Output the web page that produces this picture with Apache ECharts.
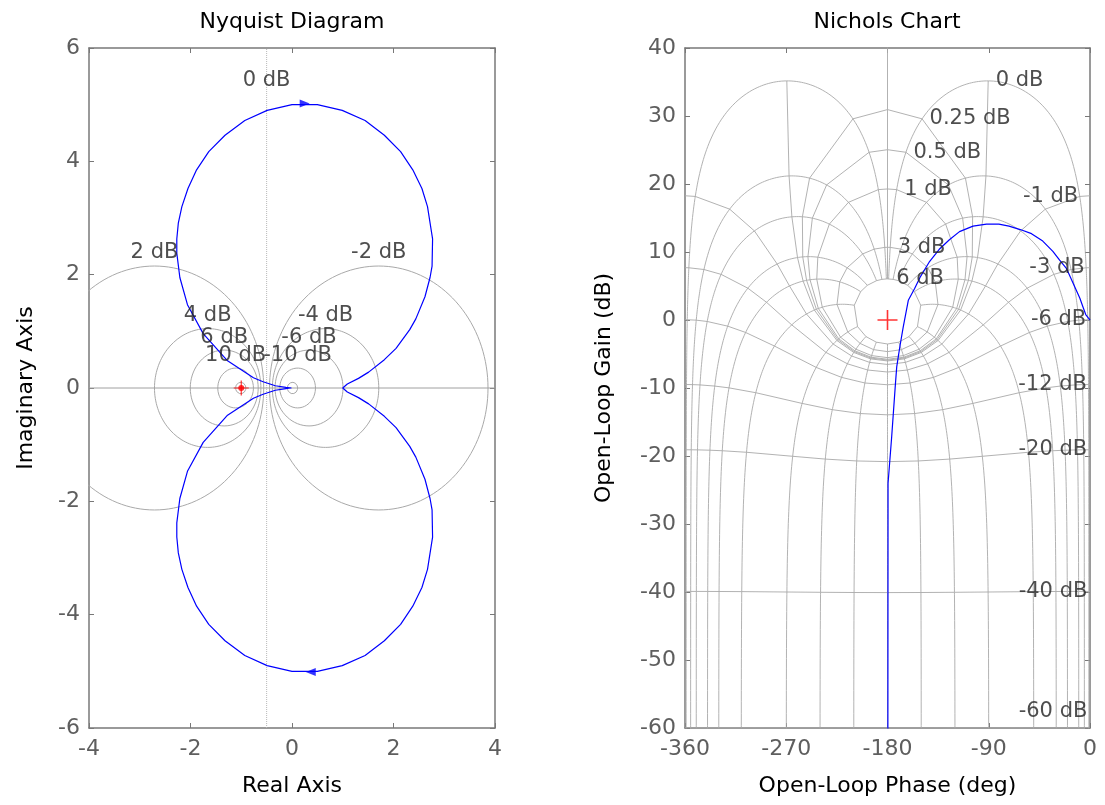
<!DOCTYPE html>
<html><head><meta charset="utf-8">
<script src="https://cdn.jsdelivr.net/npm/echarts/dist/echarts.min.js"></script>
<style>html,body{margin:0;padding:0;background:#fff}#c{width:1105px;height:805px}</style>
</head><body><div id="c"></div>
<script>
// ---------------- data ----------------
// Nyquist axes: [min, max, step]
const nyqXRange = [-4, 4, 2];
const nyqYRange = [-6, 6, 2];
// Nichols axes
const nicXRange = [-360, 0, 90];
const nicYRange = [-60, 40, 10];

// Nyquist curve, positive-frequency branch (real, imaginary)
const nyqReLower = [1.00, 1.09, 1.31, 1.51, 1.82, 2.05, 2.32, 2.44, 2.62, 2.72, 2.76, 2.77, 2.67, 2.56, 2.38, 2.14, 1.82, 1.44, 0.99, 0.50, 0.00, -0.49, -0.93, -1.32, -1.64, -1.88, -2.05, -2.17, -2.24, -2.27, -2.27, -2.21, -2.06, -1.75, -1.27, -0.76, -0.57, -0.33, -0.12, -0.04, -0.01];
const nyqImLower = [0.00, -0.07, -0.17, -0.28, -0.50, -0.70, -1.03, -1.22, -1.61, -1.95, -2.15, -2.63, -3.20, -3.52, -3.85, -4.17, -4.46, -4.72, -4.90, -5.00, -5.00, -4.90, -4.72, -4.46, -4.17, -3.85, -3.52, -3.20, -2.91, -2.63, -2.38, -1.95, -1.47, -0.96, -0.48, -0.18, -0.11, -0.04, -0.01, 0.00, 0.00];
// Direction arrows on the Nyquist curve
const nyqArrowRe = [0.25, 0.37];
const nyqArrowIm = [5.02, -5.01];
const nyqArrowDir = ['right', 'left'];
// Critical points
const nyqCritical = [-1, 0];
const nicCritical = [-180, 0];

// Nichols curve: open-loop phase (deg) and gain (dB)
const nicPhase = [0, -1.5, -3.8, -6, -9, -15, -21, -27, -33, -42, -52, -62, -72, -81, -92, -104, -116, -125, -134, -143, -151, -156, -161.5, -166, -169, -171.8, -173, -176.3, -179.5, -179.7];
const nicGain  = [0, 0.3, 0.8, 1.8, 3.2, 5.4, 7.6, 8.8, 10.1, 11.6, 12.7, 13.3, 13.8, 14.1, 14.1, 13.8, 13.0, 11.8, 10.4, 8.5, 6.3, 4.6, 2.9, -1.0, -3.9, -6.9, -9.5, -17.2, -24, -70];

// Grid levels
const nyqMdB = [-20, -10, -6, -4, -2, 2, 4, 6, 10, 20];       // M-circles
const nyqLabelDB = [0, 2, -2, 4, -4, 6, -6, 10, -10];          // labelled circles
const nicGainDB = [6, 3, 1, 0.5, 0.25, 0, -1, -3, -6, -12, -20, -40, -60, -80]; // closed-loop gain lines
const nicPhaseDeg = [-1, -5, -10, -20, -30, -50, -90, -120, -150, -180, -210, -240, -270, -310, -330, -340, -350, -355, -359]; // closed-loop phase lines
const nicLabelDB = [6, 3, 1, 0.5, 0.25, 0, -1, -3, -6, -12, -20, -40, -60];

// ---------------- styling ----------------
const FONT = 'DejaVu Sans';
const AXC = '#787878';
const TICKC = '#5e5e5e';
const GRIDC = '#a9a9a9';
const LABC = '#222222';
const BLUE = '#0000ff';
const RED = '#ff0000';
const zeroDbLabelIm = 5.2;

// ---------------- helpers ----------------
function fmtDB(v) { return v + ' dB'; }

function mCircle(db) {
  const M = Math.pow(10, db / 20), M2 = M * M;
  const c = -M2 / (M2 - 1), r = Math.abs(M / (M2 - 1));
  const pts = [];
  for (let k = 0; k <= 144; k++) {
    const t = 2 * Math.PI * k / 144;
    pts.push([c + r * Math.cos(t), r * Math.sin(t)]);
  }
  return pts;
}
function mCircleTop(db) {
  const M = Math.pow(10, db / 20), M2 = M * M;
  return [-M2 / (M2 - 1), Math.abs(M / (M2 - 1))];
}
// open-loop point for closed-loop gain (dB) and phase (deg)
function olPoint(mdB, phiDeg) {
  const m = Math.pow(10, mdB / 20), p = phiDeg * Math.PI / 180;
  const tr = m * Math.cos(p), ti = m * Math.sin(p);
  const dr = 1 - tr, di = -ti;
  const den = dr * dr + di * di;
  const gr = (tr * dr + ti * di) / den;
  const gi = (ti * dr - tr * di) / den;
  let a = Math.atan2(gi, gr) * 180 / Math.PI;
  if (a > 0) a -= 360;
  if (phiDeg < -180 && a > -180 + 1e-6) a -= 360;
  return [a, 20 * Math.log10(Math.sqrt(gr * gr + gi * gi))];
}
// closed-loop gain samples used to trace each phase line (grid levels plus dense fill)
function phaseLineGains() {
  const top = nicGainDB[0], bottom = nicGainDB[nicGainDB.length - 1];
  const s = 0.02, vals = nicGainDB.slice();
  for (let t = Math.asinh(top / s); t > Math.asinh(bottom / s); t -= 0.03) vals.push(s * Math.sinh(t));
  return vals.filter(v => v <= top && v >= bottom).sort((a, b) => b - a);
}

function lineS(data, color, width, xi, yi, type, z) {
  return { type: 'line', xAxisIndex: xi, yAxisIndex: yi, data: data, showSymbol: false, symbol: 'none',
    lineStyle: { color: color, width: width, type: type || 'solid' }, silent: true, animation: false,
    clip: true, z: z || 2 };
}

function xAx(gi, r, pos, name, show) {
  return { gridIndex: gi, type: 'value', min: r[0], max: r[1], interval: r[2], position: pos,
    axisLine: { show: true, onZero: false, lineStyle: { color: AXC, width: 1.5 } },
    axisTick: { show: true, inside: true, length: 5, lineStyle: { color: AXC, width: 1 } },
    axisLabel: { show: show, fontSize: 22, fontFamily: FONT, color: TICKC, margin: 10 },
    splitLine: { show: false },
    name: show ? name : '', nameLocation: 'middle', nameGap: 47,
    nameTextStyle: { fontSize: 22, fontFamily: FONT, color: '#000' } };
}
function yAx(gi, r, pos, name, show, gap) {
  return { gridIndex: gi, type: 'value', min: r[0], max: r[1], interval: r[2], position: pos,
    axisLine: { show: true, onZero: false, lineStyle: { color: AXC, width: 1.5 } },
    axisTick: { show: true, inside: true, length: 5, lineStyle: { color: AXC, width: 1 } },
    axisLabel: { show: show, fontSize: 22, fontFamily: FONT, color: TICKC, margin: 9 },
    splitLine: { show: false },
    name: show ? name : '', nameLocation: 'middle', nameGap: gap,
    nameTextStyle: { fontSize: 22, fontFamily: FONT, color: '#000' } };
}

// ---------------- build series ----------------
const series = [];

// Nyquist grid: M circles, 0 dB line, real axis
nyqMdB.forEach(db => series.push(lineS(mCircle(db), GRIDC, 1, 0, 0)));
series.push(lineS([[-0.5, nyqYRange[0]], [-0.5, nyqYRange[1]]], '#b8b8b8', 1, 0, 0, 'dotted'));
series.push(lineS([[nyqXRange[0], 0], [nyqXRange[1], 0]], '#a0a0a0', 1, 0, 0));

// Nyquist curve (negative-frequency branch is the mirror image)
const lower = nyqReLower.map((x, i) => [x, nyqImLower[i]]);
const upper = lower.slice().reverse().map(p => [p[0], -p[1]]);
series.push(lineS(upper.concat(lower.slice(1)), BLUE, 1.2, 0, 0, 'solid', 6));

// Nyquist labels
series.push({ type: 'scatter', xAxisIndex: 0, yAxisIndex: 0, symbolSize: 1, clip: false, silent: true, animation: false,
  itemStyle: { color: 'rgba(0,0,0,0)' }, z: 8,
  label: { show: true, position: 'top', distance: 2, formatter: '{b}', fontSize: 21, fontFamily: FONT, color: LABC },
  data: nyqLabelDB.map(db => ({ name: fmtDB(db), value: db === 0 ? [-0.5, zeroDbLabelIm] : mCircleTop(db) })) });

// Nyquist arrows
series.push({ type: 'scatter', xAxisIndex: 0, yAxisIndex: 0, symbol: 'triangle', symbolSize: [8, 10], silent: true, animation: false,
  itemStyle: { color: BLUE }, z: 9,
  data: nyqArrowRe.map((x, i) => ({ value: [x, nyqArrowIm[i]], symbolRotate: nyqArrowDir[i] === 'right' ? -90 : 90 })) });

// critical point markers
const PLUS = 'path://M0,9.2H20V10.8H0Z M9.2,0H10.8V20H9.2Z';
series.push({ type: 'scatter', xAxisIndex: 0, yAxisIndex: 0, symbol: PLUS, symbolSize: 15, silent: true, animation: false,
  itemStyle: { color: RED }, z: 10, data: [nyqCritical] });
series.push({ type: 'scatter', xAxisIndex: 0, yAxisIndex: 0, symbol: 'circle', symbolSize: 6, silent: true, animation: false,
  itemStyle: { color: RED }, z: 10, data: [nyqCritical] });

// Nichols grid: closed-loop gain lines
nicGainDB.forEach(db => {
  const phis = db !== 0 ? [0].concat(nicPhaseDeg, [-360]) : nicPhaseDeg;
  series.push(lineS(phis.map(p => olPoint(db, p)), GRIDC, 0.9, 2, 2));
});
// closed-loop phase lines
const fineGains = phaseLineGains();
nicPhaseDeg.forEach(p => {
  series.push(lineS(fineGains.map(db => olPoint(db, p)), GRIDC, 0.9, 2, 2));
});
// closed-loop phase 0 line (gains above 0 dB), runs off the top
series.push(lineS(nicGainDB.filter(db => db > 0).concat([1e-4]).map(db => olPoint(db, 0)), GRIDC, 0.9, 2, 2));

// Nichols curve
series.push(lineS(nicPhase.map((p, i) => [p, nicGain[i]]), BLUE, 1.2, 2, 2, 'solid', 6));

// Nichols labels (at the -1 deg phase line)
series.push({ type: 'scatter', xAxisIndex: 2, yAxisIndex: 2, symbolSize: 1, clip: false, silent: true, animation: false,
  itemStyle: { color: 'rgba(0,0,0,0)' }, z: 8,
  label: { show: true, formatter: '{b}', fontSize: 21, fontFamily: FONT, color: LABC },
  data: nicLabelDB.map((db, i) => {
    const pos = db >= 0 ? { position: 'right', distance: 7 } : { position: 'left', distance: 1 };
    if (i === nicLabelDB.length - 1) pos.offset = [0, -16];
    return { name: fmtDB(db), value: olPoint(db, nicPhaseDeg[0]), label: pos };
  }) });

series.push({ type: 'scatter', xAxisIndex: 2, yAxisIndex: 2, symbol: PLUS, symbolSize: 20, silent: true, animation: false,
  itemStyle: { color: RED }, z: 10, data: [nicCritical] });

// ---------------- option ----------------
const option = {
  animation: false,
  backgroundColor: '#ffffff',
  grid: [
    { left: 89, top: 48, width: 406, height: 680, show: false },
    { left: 685, top: 48, width: 405, height: 680, show: false }
  ],
  xAxis: [
    xAx(0, nyqXRange, 'bottom', 'Real Axis', true),
    xAx(0, nyqXRange, 'top', '', false),
    xAx(1, nicXRange, 'bottom', 'Open-Loop Phase (deg)', true),
    xAx(1, nicXRange, 'top', '', false)
  ],
  yAxis: [
    yAx(0, nyqYRange, 'left', 'Imaginary Axis', true, 52),
    yAx(0, nyqYRange, 'right', '', false, 0),
    yAx(1, nicYRange, 'left', 'Open-Loop Gain (dB)', true, 70),
    yAx(1, nicYRange, 'right', '', false, 0)
  ],
  graphic: [
    { type: 'text', x: 292, y: 22, silent: true,
      style: { text: 'Nyquist Diagram', align: 'center', verticalAlign: 'middle', fontSize: 22, fontFamily: FONT, fill: '#000' } },
    { type: 'text', x: 887, y: 22, silent: true,
      style: { text: 'Nichols Chart', align: 'center', verticalAlign: 'middle', fontSize: 22, fontFamily: FONT, fill: '#000' } }
  ],
  series: series
};

const chart = echarts.init(document.getElementById('c'), null, { renderer: 'canvas' });
chart.setOption(option);
</script>
</body></html>
